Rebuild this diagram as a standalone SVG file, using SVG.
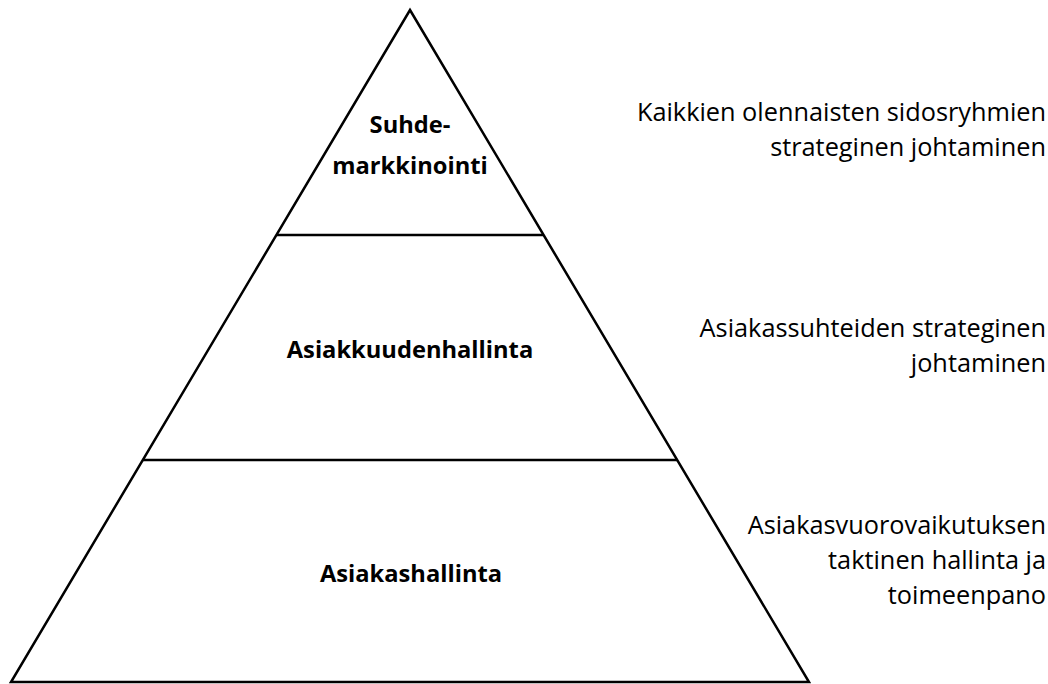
<svg xmlns="http://www.w3.org/2000/svg" width="1048" height="684" viewBox="0 0 1048 684">
  <style>
    .edge { fill: none; stroke: #000; stroke-width: 2.5; stroke-linejoin: miter; }
    .tier { font-family: "Open Sans", Lato, "Liberation Sans", sans-serif; font-weight: bold; font-size: 23.7px; fill: #000; text-anchor: middle; }
    .note { font-family: "Open Sans", Lato, "Liberation Sans", sans-serif; font-size: 25.3px; fill: #000; text-anchor: end; }
  </style>
  <rect width="1048" height="684" fill="#fff"/>

  <!-- pyramid outline and tier dividers -->
  <g id="connectors">
    <polygon class="edge" points="410,10 809,682 11,682"/>
    <line class="edge" x1="277" y1="235" x2="543" y2="235"/>
    <line class="edge" x1="143" y1="460" x2="677" y2="460"/>
  </g>

  <g id="tier-top">
    <text class="tier" x="410" y="133">Suhde-</text>
    <text class="tier" x="410" y="174">markkinointi</text>
  </g>
  <g id="tier-middle">
    <text class="tier" x="410" y="358">Asiakkuudenhallinta</text>
  </g>
  <g id="tier-bottom">
    <text class="tier" x="411" y="582">Asiakashallinta</text>
  </g>

  <g id="note-top">
    <text class="note" x="1046" y="121">Kaikkien olennaisten sidosryhmien</text>
    <text class="note" x="1046" y="156">strateginen johtaminen</text>
  </g>
  <g id="note-middle">
    <text class="note" x="1046" y="337">Asiakassuhteiden strateginen</text>
    <text class="note" x="1046" y="372">johtaminen</text>
  </g>
  <g id="note-bottom">
    <text class="note" x="1046" y="534">Asiakasvuorovaikutuksen</text>
    <text class="note" x="1046" y="569">taktinen hallinta ja</text>
    <text class="note" x="1046" y="604">toimeenpano</text>
  </g>
</svg>
